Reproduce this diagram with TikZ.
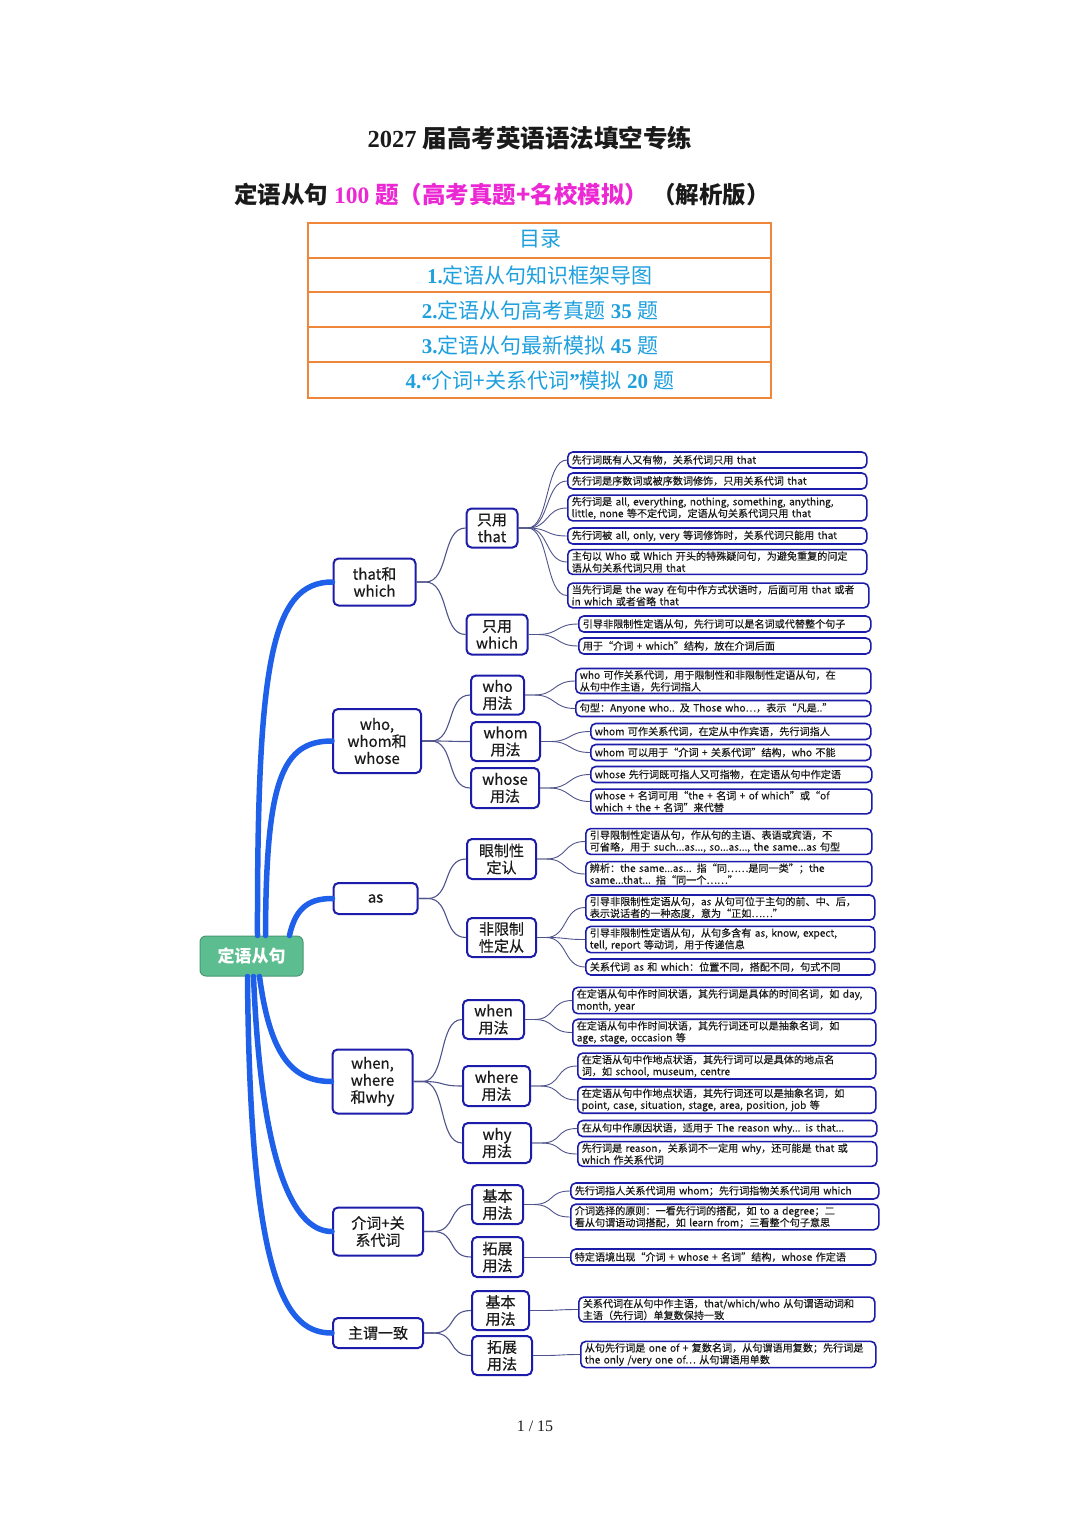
\documentclass[tikz,border=0pt]{standalone}
\usepackage{fontspec}
\setmainfont{Liberation Serif}
\newfontfamily\cjk{Noto Sans CJK SC}
\newfontfamily\cjkm[FakeBold=0.5]{Noto Sans CJK SC}
\newfontfamily\cjkl[FakeBold=0.3]{Noto Sans CJK SC}
\XeTeXlinebreaklocale "zh"
\XeTeXlinebreakskip=0pt plus 1pt
\definecolor{mag}{RGB}{236,40,212}
\definecolor{tocblue}{RGB}{30,160,222}
\definecolor{tocorange}{RGB}{240,134,58}
\definecolor{boxblue}{RGB}{28,28,170}
\definecolor{mainblue}{RGB}{30,96,234}
\definecolor{thinline}{RGB}{80,84,140}
\definecolor{rootgreen}{RGB}{92,190,144}
\definecolor{txt}{RGB}{26,26,26}
\tikzset{
  plain/.style={inner sep=0pt, text=txt},
  rootbox/.style={draw=rootgreen!80!black, line width=1pt, fill=rootgreen, rounded corners=6pt,
    minimum width=103pt, minimum height=40pt, inner sep=0pt, text=white,
    font=\cjk\bfseries\fontsize{17}{19}\selectfont},
  l1box/.style={draw=boxblue, line width=2pt, fill=white, rounded corners=5pt, inner sep=1pt,
    align=center, text=txt, font=\cjkm\fontsize{15}{17}\selectfont},
  l2box/.style={l1box},
  leafbox/.style={draw=boxblue, line width=1.6pt, fill=white, rounded corners=5pt, anchor=west,
    inner xsep=4pt, inner ysep=1.8pt, minimum height=16pt, align=left, text=txt,
    font=\cjkl\fontsize{10.1}{11.8}\selectfont},
  mainline/.style={draw=mainblue, line width=5.5pt, line cap=round},
  subline/.style={draw=thinline, line width=1.1pt},
  fanline/.style={draw=thinline, line width=0.9pt},
}
\newcommand\fan[2]{\draw[fanline] (#1.east) -- ++(9,0) .. controls +(22,0) and +(-22,0) .. (#2.west);}
\newcommand\sub[2]{\draw[subline] (#1.east) -- ++(9,0) .. controls +(24,0) and +(-24,0) .. (#2.west);}
\begin{document}
\begin{tikzpicture}[x=1pt,y=-1pt]
\useasboundingbox (0,0) rectangle (1080,1528);
\fill[white] (0,0) rectangle (1080,1528);

% ---------- title ----------
\node[plain] (title) at (530,138) {{\fontsize{24.5}{28}\selectfont\bfseries 2027 }{\cjk\bfseries\fontsize{24.5}{28}\selectfont 届高考英语语法填空专练}};
\node[plain] (subtitle) at (502,195) {\fontsize{23.5}{27}\selectfont
  {\cjk\bfseries 定语从句} {\color{mag}\bfseries 100 }{\color{mag}\cjk\bfseries 题（高考真题+名校模拟）}\hspace{4pt}{\cjk\bfseries （解析版）}};

% ---------- table of contents ----------
\draw[tocorange, line width=2.6pt] (308,223) rectangle (771,398);
\foreach \yy in {258,292,327,362} \draw[tocorange, line width=2.6pt] (308,\yy) -- (771,\yy);
\begin{scope}[every node/.style={plain, text=tocblue, font=\fontsize{21}{24}\selectfont}]
\node (toc0) at (540,239) {\cjk 目录};
\node (toc1) at (540,275) {{\bfseries 1.}{\cjk 定语从句知识框架导图}};
\node (toc2) at (540,310) {{\bfseries 2.}{\cjk 定语从句高考真题} {\bfseries 35} {\cjk 题}};
\node (toc3) at (540,345) {{\bfseries 3.}{\cjk 定语从句最新模拟} {\bfseries 45} {\cjk 题}};
\node (toc4) at (540,380) {{\bfseries 4.“}{\cjk 介词+关系代词}{\bfseries ”}{\cjk 模拟} {\bfseries 20} {\cjk 题}};
\end{scope}

% ---------- mind map: root and level 1 ----------
\node[rootbox] (root) at (251.5,956) {定语从句};

\node[l1box, minimum width=82pt, minimum height=47pt] (that) at (374.5,582) {that和\\which};
\node[l1box, minimum width=88pt, minimum height=64pt] (who) at (377,741) {who,\\whom和\\whose};
\node[l1box, minimum width=84pt, minimum height=31pt] (as) at (375.5,898.5) {as};
\node[l1box, minimum width=80pt, minimum height=64pt] (when) at (372.5,1081.5) {when,\\where\\和why};
\node[l1box, minimum width=90pt, minimum height=48pt] (prep) at (378,1231.5) {介词+关\\系代词};
\node[l1box, minimum width=90pt, minimum height=30pt] (agr) at (378,1333) {主谓一致};

\draw[mainline] ([xshift=6pt]root.north) .. controls (257,660) and (272,582) .. (that.west);
\draw[mainline] ([xshift=14pt]root.north) .. controls (266,780) and (282,741) .. (who.west);
\draw[mainline] ([xshift=38pt]root.north) .. controls (296,905) and (312,898.5) .. (as.west);
\draw[mainline] ([xshift=8pt]root.south) .. controls (270,1055) and (292,1081.5) .. (when.west);
\draw[mainline] ([xshift=2pt]root.south) .. controls (262,1180) and (298,1231.5) .. (prep.west);
\draw[mainline] ([xshift=-4pt]root.south) .. controls (250,1290) and (288,1333) .. (agr.west);

% ---------- level 2 ----------
\node[l2box, minimum width=51pt, minimum height=39pt] (onlythat) at (492,528) {只用\\that};
\node[l2box, minimum width=61pt, minimum height=40pt] (onlywhich) at (497,634.5) {只用\\which};
\node[l2box, minimum width=53pt, minimum height=39pt] (whou) at (497.5,695) {who\\用法};
\node[l2box, minimum width=69pt, minimum height=39pt] (whomu) at (505.5,741.5) {whom\\用法};
\node[l2box, minimum width=68pt, minimum height=40pt] (whoseu) at (505,788) {whose\\用法};
\node[l2box, minimum width=69pt, minimum height=40pt] (restr) at (501.5,859) {眼制性\\定认};
\node[l2box, minimum width=69pt, minimum height=39pt] (nonrestr) at (501.5,937.5) {非限制\\性定从};
\node[l2box, minimum width=61pt, minimum height=39pt] (whenu) at (493.5,1019.5) {when\\用法};
\node[l2box, minimum width=67pt, minimum height=40pt] (whereu) at (496.5,1086) {where\\用法};
\node[l2box, minimum width=68pt, minimum height=40pt] (whyu) at (497,1143) {why\\用法};
\node[l2box, minimum width=51pt, minimum height=39pt] (pbasic) at (497.5,1204.5) {基本\\用法};
\node[l2box, minimum width=51pt, minimum height=40pt] (pext) at (497.5,1257) {拓展\\用法};
\node[l2box, minimum width=57pt, minimum height=39pt] (abasic) at (500.5,1310.5) {基本\\用法};
\node[l2box, minimum width=60pt, minimum height=39pt] (aext) at (502,1355.5) {拓展\\用法};

\sub{that}{onlythat} \sub{that}{onlywhich}
\sub{who}{whou} \sub{who}{whomu} \sub{who}{whoseu}
\sub{as}{restr} \sub{as}{nonrestr}
\sub{when}{whenu} \sub{when}{whereu} \sub{when}{whyu}
\sub{prep}{pbasic} \sub{prep}{pext}
\sub{agr}{abasic} \sub{agr}{aext}

% ---------- leaves ----------
\node[leafbox, text width=291pt] (f1) at (567,460) {先行词既有人又有物，关系代词只用 that};
\node[leafbox, text width=291pt] (f2) at (567,481) {先行词是序数词或被序数词修饰，只用关系代词 that};
\node[leafbox, text width=291pt] (f3) at (567,508) {先行词是 all, everything, nothing, something, anything,\\little, none 等不定代词，定语从句关系代词只用 that};
\node[leafbox, text width=291pt] (f4) at (567,536) {先行词被 all, only, very 等词修饰时，关系代词只能用 that};
\node[leafbox, text width=291pt] (f5) at (567,562) {主句以 Who 或 Which 开头的特殊疑问句，为避免重复的问定\\语从句关系代词只用 that};
\node[leafbox, text width=293pt] (f6) at (567,595.5) {当先行词是 the way 在句中作方式状语时，后面可用 that 或者\\in which 或者省略 that};
\node[leafbox, text width=284pt] (f7) at (578,624) {引导非限制性定语从句，先行词可以是名词或代替整个句子};
\node[leafbox, text width=284pt] (f8) at (578,646) {用于“介词 + which”结构，放在介词后面};
\node[leafbox, text width=287pt] (f9) at (575,681) {who 可作关系代词，用于限制性和非限制性定语从句，在\\从句中作主语，先行词指人};
\node[leafbox, text width=287pt] (f10) at (575,708.5) {句型：Anyone who.. 及 Those who…，表示“凡是..”};
\node[leafbox, text width=272pt] (f11) at (590,731.5) {whom 可作关系代词，在定从中作宾语，先行词指人};
\node[leafbox, text width=272pt] (f12) at (590,752.5) {whom 可以用于“介词 + 关系代词”结构，who 不能};
\node[leafbox, text width=273pt] (f13) at (590,774.5) {whose 先行词既可指人又可指物，在定语从句中作定语};
\node[leafbox, text width=273pt] (f14) at (590,801.5) {whose + 名词可用“the + 名词 + of which”或“of\\which + the + 名词”来代替};
\node[leafbox, text width=278pt] (f15) at (585,841.5) {引导限制性定语从句，作从句的主语、表语或宾语，不\\可省略，用于 such...as..., so...as..., the same...as 句型};
\node[leafbox, text width=278pt] (f16) at (585,874) {辨析：the same...as... 指“同……是同一类”；the\\same...that... 指“同一个……”};
\node[leafbox, text width=281pt] (f17) at (585,907.5) {引导非限制性定语从句，as 从句可位于主句的前、中、后，\\表示说话者的一种态度，意为“正如……”};
\node[leafbox, text width=281pt] (f18) at (585,939.5) {引导非限制性定语从句，从句多含有 as, know, expect,\\tell, report 等动词，用于传递信息};
\node[leafbox, text width=281pt] (f19) at (585,967) {关系代词 as 和 which：位置不同，搭配不同，句式不同};
\node[leafbox, text width=295pt] (f20) at (572,1000.5) {在定语从句中作时间状语，其先行词是具体的时间名词，如 day,\\month, year};
\node[leafbox, text width=295pt] (f21) at (572,1032.5) {在定语从句中作时间状语，其先行词还可以是抽象名词，如\\age, stage, occasion 等};
\node[leafbox, text width=290pt] (f22) at (577,1066) {在定语从句中作地点状语，其先行词可以是具体的地点名\\词，如 school, museum, centre};
\node[leafbox, text width=290pt] (f23) at (577,1100) {在定语从句中作地点状语，其先行词还可以是抽象名词，如\\point, case, situation, stage, area, position, job 等};
\node[leafbox, text width=291pt] (f24) at (577,1128.5) {在从句中作原因状语，适用于 The reason why... is that...};
\node[leafbox, text width=291pt] (f25) at (577,1154) {先行词是 reason，关系词不一定用 why，还可能是 that 或\\which 作关系代词};
\node[leafbox, text width=300pt] (f26) at (570,1191) {先行词指人关系代词用 whom；先行词指物关系代词用 which};
\node[leafbox, text width=300pt] (f27) at (570,1217) {介词选择的原则：一看先行词的搭配，如 to a degree；二\\看从句谓语动词搭配，如 learn from；三看整个句子意思};
\node[leafbox, text width=297pt] (f28) at (570,1257) {特定语境出现“介词 + whose + 名词”结构，whose 作定语};
\node[leafbox, text width=288pt] (f29) at (578,1309.5) {关系代词在从句中作主语，that/which/who 从句谓语动词和\\主语（先行词）单复数保持一致};
\node[leafbox, text width=287pt] (f30) at (580,1354.5) {从句先行词是 one of + 复数名词，从句谓语用复数；先行词是\\the only /very one of… 从句谓语用单数};

\foreach \f in {f1,f2,f3,f4,f5,f6} {\fan{onlythat}{\f}}
\fan{onlywhich}{f7} \fan{onlywhich}{f8}
\fan{whou}{f9} \fan{whou}{f10}
\fan{whomu}{f11} \fan{whomu}{f12}
\fan{whoseu}{f13} \fan{whoseu}{f14}
\fan{restr}{f15} \fan{restr}{f16}
\fan{nonrestr}{f17} \fan{nonrestr}{f18} \fan{nonrestr}{f19}
\fan{whenu}{f20} \fan{whenu}{f21}
\fan{whereu}{f22} \fan{whereu}{f23}
\fan{whyu}{f24} \fan{whyu}{f25}
\fan{pbasic}{f26} \fan{pbasic}{f27}
\fan{pext}{f28}
\fan{abasic}{f29}
\fan{aext}{f30}

% ---------- page number ----------
\node[plain] (page) at (535,1426) {\fontsize{16}{18}\selectfont 1 / 15};
\end{tikzpicture}
\end{document}
